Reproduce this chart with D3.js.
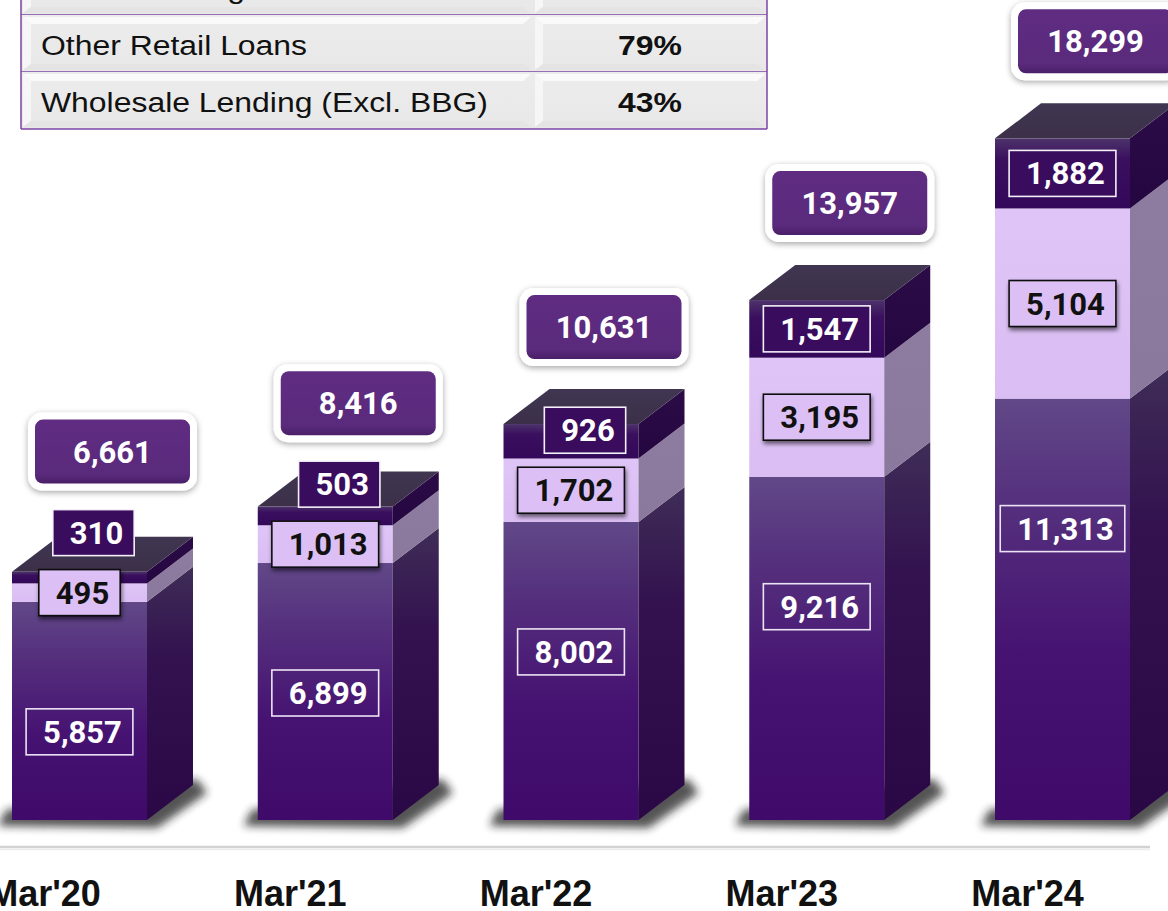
<!DOCTYPE html>
<html>
<head>
<meta charset="utf-8">
<script src="https://cdn.jsdelivr.net/npm/d3@7"></script>
<style>
  html, body { margin: 0; padding: 0; background: #ffffff; overflow: hidden; }
  #chart { width: 1168px; height: 911px; }
</style>
</head>
<body>
<div id="chart"></div>
<script>
// Stacked 3D bar chart - advances by segment
(function () {
  ///////////////////////////////////////////////////////////// ! Data
  const categories = ["Mar'20", "Mar'21", "Mar'22", "Mar'23", "Mar'24"];
  const lowerValues = [5857, 6899, 8002, 9216, 11313];
  const middleValues = [495, 1013, 1702, 3195, 5104];
  const upperValues = [310, 503, 926, 1547, 1882];
  const totalValues = [6661, 8416, 10631, 13957, 18299];

  const tableLabels = ["Retail Lending", "Other Retail Loans", "Wholesale Lending (Excl. BBG)"];
  const tableValues = ["", "79%", "43%"];

  ///////////////////////////////////////////////////////////// ! Setup
  const W = 1168, H = 911;
  const baseY = 820;
  const depthX = 46, depthY = 35;
  const fmt = d3.format(",");

  const svg = d3.select("#chart").append("svg")
    .attr("width", W).attr("height", H)
    .style("display", "block");

  const x = d3.scaleBand().domain(categories).range([12, 1130]).paddingInner(0.4507).paddingOuter(0);
  const y = d3.scaleLinear().domain([0, 20000]).range([baseY, baseY - 745]);
  const bw = x.bandwidth();

  ///////////////////////////////////////////////////////////// ! Defs
  const defs = svg.append("defs");
  function vGrad(id, stops) {
    const g = defs.append("linearGradient").attr("id", id)
      .attr("x1", 0).attr("y1", 0).attr("x2", 0).attr("y2", 1);
    stops.forEach(([o, c]) => g.append("stop").attr("offset", o).attr("stop-color", c));
  }
  vGrad("lowerFront", [[0, "#614888"], [0.25, "#55307d"], [0.6, "#461372"], [1, "#3f0a6a"]]);
  vGrad("lowerSide", [[0, "#3f2d57"], [0.35, "#33124f"], [1, "#2a0846"]]);
  vGrad("middleFront", [[0, "#dfc5f7"], [1, "#dabdf3"]]);
  vGrad("middleSide", [[0, "#8d7ca0"], [1, "#8a789d"]]);
  vGrad("upperFront", [[0, "#4d336b"], [0.3, "#3a0f5e"], [1, "#33085a"]]);
  vGrad("upperSide", [[0, "#2c0c47"], [1, "#240640"]]);
  vGrad("topFace", [[0, "#403651"], [1, "#3c3049"]]);
  vGrad("totalBox", [[0, "#5f2c82"], [0.85, "#5a2a7c"], [1, "#4a1f68"]]);
  vGrad("cellFace", [[0, "#ececec"], [1, "#e8e8e8"]]);

  const blur = defs.append("filter").attr("id", "groundBlur")
    .attr("x", "-30%").attr("y", "-100%").attr("width", "160%").attr("height", "300%");
  blur.append("feGaussianBlur").attr("stdDeviation", 4);

  const soft = defs.append("filter").attr("id", "softShadow")
    .attr("x", "-20%").attr("y", "-30%").attr("width", "140%").attr("height", "160%");
  soft.append("feDropShadow").attr("dx", 0).attr("dy", 2).attr("stdDeviation", 3)
    .attr("flood-color", "#000").attr("flood-opacity", 0.35);

  const hard = defs.append("filter").attr("id", "labelShadow")
    .attr("x", "-20%").attr("y", "-30%").attr("width", "140%").attr("height", "170%");
  hard.append("feDropShadow").attr("dx", 1).attr("dy", 3).attr("stdDeviation", 2)
    .attr("flood-color", "#000").attr("flood-opacity", 0.55);

  ///////////////////////////////////////////////////////////// ! Table (top, partly cut)
  const table = svg.append("g");
  const tX0 = 21, tX1 = 767, tMid = 533, rowH = 57, rowTop = 15 - rowH;
  tableLabels.forEach((label, i) => {
    const y0 = rowTop + i * rowH;
    [[tX0, tMid], [tMid, tX1]].forEach(([a, b]) => {
      table.append("rect").attr("x", a).attr("y", y0).attr("width", b - a).attr("height", rowH)
        .attr("fill", "url(#cellFace)");
      // bevel highlights
      table.append("path")
        .attr("d", `M${a + 2},${y0 + 2}L${b - 2},${y0 + 2}L${b - 10},${y0 + 9}L${a + 10},${y0 + 9}Z`)
        .attr("fill", "#fafafa");
      table.append("path")
        .attr("d", `M${a + 2},${y0 + 2}L${a + 10},${y0 + 9}L${a + 10},${y0 + rowH - 8}L${a + 2},${y0 + rowH - 2}Z`)
        .attr("fill", "#f6f6f6");
      table.append("path")
        .attr("d", `M${a + 2},${y0 + rowH - 2}L${a + 10},${y0 + rowH - 8}L${b - 10},${y0 + rowH - 8}L${b - 2},${y0 + rowH - 2}Z`)
        .attr("fill", "#e4e4e4");
    });
    table.append("text")
      .attr("transform", `translate(41,${y0 + 40}) scale(1.14,1)`)
      .attr("font-family", "'Liberation Sans', Arial, sans-serif")
      .attr("font-size", 28).attr("fill", "#111")
      .text(label);
    table.append("text")
      .attr("transform", `translate(${(tMid + tX1) / 2},${y0 + 40}) scale(1.14,1)`)
      .attr("text-anchor", "middle")
      .attr("font-family", "'Liberation Sans', Arial, sans-serif")
      .attr("font-weight", "bold")
      .attr("font-size", 28).attr("fill", "#111")
      .text(tableValues[i]);
    table.append("line").attr("x1", tX0).attr("x2", tX1)
      .attr("y1", y0 + rowH).attr("y2", y0 + rowH)
      .attr("stroke", "#7e44a8").attr("stroke-width", 1.5);
  });
  [tX0, tX1].forEach(xx => table.append("line")
    .attr("x1", xx).attr("x2", xx).attr("y1", rowTop).attr("y2", rowTop + 3 * rowH)
    .attr("stroke", "#7e44a8").attr("stroke-width", 1.5));

  ///////////////////////////////////////////////////////////// ! Baseline & categories
  svg.append("line").attr("x1", 0).attr("x2", 1150).attr("y1", 847).attr("y2", 847)
    .attr("stroke", "#d2d2d2").attr("stroke-width", 2.5);
  svg.append("line").attr("x1", 0).attr("x2", 1150).attr("y1", 849.5).attr("y2", 849.5)
    .attr("stroke", "#ececec").attr("stroke-width", 1.5);

  svg.append("g").selectAll("text").data(categories).join("text")
    .attr("x", d => x(d) + bw / 2 - 35)
    .attr("y", 906)
    .attr("text-anchor", "middle")
    .attr("font-family", "'Liberation Sans', Arial, sans-serif")
    .attr("font-weight", "bold")
    .attr("font-size", 36)
    .attr("fill", "#111")
    .text(d => d);

  ///////////////////////////////////////////////////////////// ! Bars
  const bars = categories.map((c, i) => {
    const v0 = lowerValues[i], v1 = v0 + middleValues[i], v2 = v1 + upperValues[i];
    return { c, i, stack: [[0, v0, "lower"], [v0, v1, "middle"], [v1, v2, "upper"]], top: v2 };
  });

  const barG = svg.append("g");
  bars.forEach(b => {
    const x0 = x(b.c), x1 = x0 + bw;
    const g = barG.append("g");

    // ground shadow
    g.append("path")
      .attr("d", `M${x0 - 14},${baseY + 6}L${x0 - 6},${baseY - 10}L${x1 + depthX + 4},${baseY - depthY - 6}` +
        `L${x1 + depthX + 14},${baseY - depthY + 8}L${x1 + 10},${baseY + 8}Z`)
      .attr("fill", "#1a1a1a").attr("opacity", 0.75)
      .attr("filter", "url(#groundBlur)");

    b.stack.forEach(([a, z, key]) => {
      const ya = y(a), yz = y(z);
      g.append("rect").attr("x", x0).attr("y", yz).attr("width", bw).attr("height", ya - yz)
        .attr("fill", `url(#${key}Front)`);
      g.append("path")
        .attr("d", `M${x1},${ya}L${x1},${yz}L${x1 + depthX},${yz - depthY}L${x1 + depthX},${ya - depthY}Z`)
        .attr("fill", `url(#${key}Side)`);
    });

    const yt = y(b.top);
    g.append("path")
      .attr("d", `M${x0},${yt}L${x1},${yt}L${x1 + depthX},${yt - depthY}L${x0 + depthX},${yt - depthY}Z`)
      .attr("fill", "url(#topFace)");
  });

  ///////////////////////////////////////////////////////////// ! Labels
  const labelG = svg.append("g");
  const numFont = "Roboto, 'Liberation Sans', Arial, sans-serif";

  function valueLabel(cx, cy, value, style) {
    const g = labelG.append("g");
    const t = g.append("text")
      .attr("x", cx + 3).attr("y", cy + 11)
      .attr("text-anchor", "middle")
      .attr("font-family", numFont)
      .attr("font-weight", "bold")
      .attr("font-size", 31)
      .attr("fill", style.text)
      .text(fmt(value));
    const w = t.node().getComputedTextLength() + 28, h = 46;
    g.insert("rect", "text")
      .attr("x", cx - w / 2).attr("y", cy - h / 2)
      .attr("width", w).attr("height", h)
      .attr("fill", style.fill)
      .attr("stroke", style.stroke).attr("stroke-width", 1.6)
      .attr("filter", style.shadow ? "url(#labelShadow)" : null);
    return { top: cy - h / 2 };
  }

  bars.forEach(b => {
    const i = b.i;
    const cx = x(b.c) + bw / 2;
    const lowerCy = y(lowerValues[i]) + 130;
    const middleCy = (y(b.stack[1][0]) + y(b.stack[1][1])) / 2;
    const upperMid = (y(b.stack[2][0]) + y(b.stack[2][1])) / 2;
    const pushed = upperMid > middleCy - 60;
    const upperCy = pushed ? middleCy - 60 : upperMid;

    valueLabel(cx, lowerCy, lowerValues[i], { fill: "none", stroke: "#ece4f4", text: "#ffffff" });
    valueLabel(cx, middleCy, middleValues[i], { fill: "#dcc0f5", stroke: "#111", text: "#111", shadow: true });
    const up = valueLabel(cx + (pushed ? 14 : 0), upperCy, upperValues[i],
      { fill: "#3a0c5e", stroke: "#f4f0f8", text: "#ffffff" });

    // total box
    const backTop = y(b.top) - depthY;
    const tcy = Math.min(backTop - 62, up.top - 58);
    const tcx = cx + 33, tw = 155, th = 64;
    const tg = labelG.append("g");
    tg.append("rect")
      .attr("x", tcx - tw / 2 - 7).attr("y", tcy - th / 2 - 7)
      .attr("width", tw + 14).attr("height", th + 14)
      .attr("rx", 14).attr("fill", "#ffffff")
      .attr("filter", "url(#softShadow)");
    tg.append("rect")
      .attr("x", tcx - tw / 2).attr("y", tcy - th / 2)
      .attr("width", tw).attr("height", th)
      .attr("rx", 8).attr("fill", "url(#totalBox)");
    tg.append("text")
      .attr("x", tcx).attr("y", tcy + 11)
      .attr("text-anchor", "middle")
      .attr("font-family", numFont)
      .attr("font-weight", "bold")
      .attr("font-size", 31)
      .attr("fill", "#ffffff")
      .text(fmt(totalValues[i]));
  });
})();
</script>
</body>
</html>
